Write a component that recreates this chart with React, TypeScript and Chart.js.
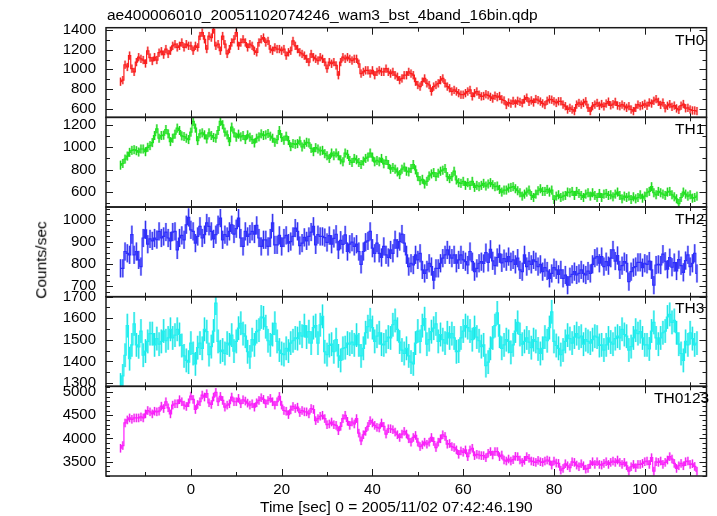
import React, { useEffect, useRef } from "react";
import { Chart, registerables } from "chart.js";

Chart.register(...registerables);

const TITLE = "ae400006010_20051102074246_wam3_bst_4band_16bin.qdp";
const X_TITLE = "Time [sec] 0 = 2005/11/02 07:42:46.190";
const Y_TITLE = "Counts/sec";

const BIN_START = -15.5;
const BIN_WIDTH = 0.5;

const panelNames = ["TH0", "TH1", "TH2", "TH3", "TH0123"];

const th0 = [
  874, 890, 1047, 1024, 1140, 1007, 974, 1074, 1124, 1107,
  1095, 1060, 1190, 1120, 1085, 1125, 1095, 1170, 1185, 1150,
  1207, 1157, 1190, 1240, 1257, 1224, 1240, 1274, 1224, 1257,
  1240, 1240, 1190, 1240, 1224, 1340, 1374, 1307, 1207, 1340,
  1324, 1407, 1240, 1257, 1190, 1340, 1257, 1157, 1207, 1274,
  1307, 1374, 1240, 1274, 1307, 1274, 1224, 1257, 1240, 1190,
  1174, 1274, 1307, 1324, 1274, 1290, 1207, 1190, 1224, 1207,
  1207, 1190, 1207, 1140, 1174, 1190, 1290, 1240, 1207, 1174,
  1157, 1140, 1107, 1074, 1157, 1124, 1107, 1090, 1124, 1107,
  1074, 1007, 1074, 1057, 1074, 1040, 940, 1074, 1124, 1107,
  1124, 1107, 1090, 1107, 1107, 1057, 957, 974, 990, 990,
  957, 990, 940, 974, 990, 974, 974, 1007, 974, 957,
  974, 940, 924, 890, 907, 940, 940, 974, 957, 940,
  874, 840, 824, 874, 907, 857, 840, 774, 824, 840,
  857, 890, 907, 857, 824, 807, 774, 790, 774, 757,
  741, 741, 757, 774, 790, 724, 757, 774, 741, 724,
  728, 746, 735, 719, 702, 731, 716, 728, 694, 682,
  636, 661, 650, 678, 652, 679, 668, 655, 693, 711,
  668, 683, 662, 697, 686, 671, 652, 636, 679, 694,
  690, 674, 657, 674, 674, 640, 624, 590, 607, 590,
  574, 640, 657, 640, 657, 674, 607, 574, 624, 640,
  657, 628, 646, 622, 651, 670, 633, 645, 668, 631,
  624, 640, 624, 607, 624, 590, 574, 607, 640, 624,
  633, 648, 628, 662, 651, 679, 696, 668, 637, 661,
  603, 628, 645, 617, 630, 601, 586, 629, 646, 603,
  607, 590, 580, 580, 574,
];

const th1 = [
  839, 854, 893, 920, 953, 971, 977, 968, 956, 983,
  983, 959, 998, 1013, 1040, 1103, 1163, 1079, 1103, 1106,
  1157, 1118, 1049, 1079, 1115, 1169, 1148, 1100, 1094, 1079,
  1067, 1133, 1229, 1169, 1058, 1118, 1127, 1109, 1073, 1127,
  1103, 1085, 1079, 1148, 1229, 1199, 1133, 1109, 1049, 1178,
  1127, 1088, 1115, 1091, 1103, 1067, 1109, 1088, 1067, 1037,
  1079, 1091, 1118, 1103, 1109, 1121, 1097, 1079, 1043, 1067,
  1148, 1085, 1061, 1097, 1058, 1004, 1031, 1025, 1031, 1055,
  1001, 1025, 1043, 1037, 989, 959, 995, 983, 965, 971,
  941, 923, 899, 947, 923, 947, 923, 887, 869, 947,
  935, 881, 863, 899, 887, 863, 845, 875, 899, 911,
  947, 911, 869, 881, 869, 899, 851, 881, 845, 803,
  818, 803, 779, 755, 803, 821, 785, 779, 809, 845,
  797, 737, 701, 713, 671, 695, 743, 761, 773, 737,
  767, 785, 794, 809, 737, 719, 737, 785, 707, 683,
  677, 695, 659, 683, 659, 695, 641, 659, 647, 659,
  677, 653, 671, 683, 665, 647, 653, 623, 599, 617,
  617, 635, 641, 647, 629, 611, 593, 563, 581, 599,
  617, 569, 551, 581, 611, 629, 605, 605, 623, 599,
  617, 533, 563, 575, 551, 563, 569, 599, 593, 605,
  569, 605, 587, 569, 551, 581, 593, 563, 593, 569,
  551, 587, 551, 581, 587, 569, 575, 557, 581, 599,
  569, 539, 563, 551, 563, 533, 557, 539, 551, 575,
  545, 563, 593, 605, 647, 593, 575, 605, 593, 581,
  569, 599, 605, 575, 557, 539, 497, 551, 599, 581,
  563, 575, 545, 551, 563,
];

const th2 = [
  780, 780, 856, 848, 841, 932, 841, 856, 818, 788,
  917, 954, 889, 913, 904, 917, 910, 947, 917, 924,
  944, 917, 904, 944, 947, 863, 917, 929, 909, 977,
  1010, 954, 947, 894, 924, 970, 917, 932, 985, 970,
  947, 913, 932, 977, 1007, 909, 932, 924, 947, 977,
  935, 959, 1007, 917, 879, 947, 924, 935, 947, 935,
  974, 917, 879, 909, 909, 879, 917, 985, 886, 886,
  929, 879, 917, 929, 894, 901, 924, 962, 947, 883,
  894, 920, 904, 924, 944, 970, 886, 932, 924, 924,
  919, 897, 928, 889, 915, 934, 863, 907, 888, 931,
  856, 889, 898, 879, 889, 856, 798, 856, 898, 904,
  947, 871, 848, 894, 848, 829, 879, 841, 829, 863,
  848, 909, 871, 901, 935, 894, 841, 788, 803, 795,
  841, 818, 848, 773, 757, 773, 803, 788, 727, 780,
  780, 803, 826, 841, 863, 841, 826, 841, 803, 818,
  841, 818, 810, 795, 856, 810, 765, 780, 803, 810,
  802, 851, 807, 866, 814, 792, 829, 846, 805, 824,
  810, 833, 810, 818, 798, 826, 773, 765, 841, 788,
  813, 798, 818, 810, 788, 798, 765, 783, 768, 735,
  757, 783, 773, 753, 773, 735, 750, 704, 742, 753,
  765, 750, 757, 773, 757, 750, 768, 757, 798, 826,
  833, 803, 833, 788, 810, 792, 826, 863, 813, 838,
  773, 792, 810, 803, 720, 765, 783, 788, 807, 807,
  783, 803, 798, 813, 773, 704, 795, 798, 795, 844,
  812, 776, 828, 785, 806, 768, 819, 792, 762, 815,
  841, 788, 803, 848, 757,
];

const th3 = [
  1291, 1333, 1429, 1566, 1413, 1477, 1574, 1477, 1468, 1541,
  1429, 1448, 1493, 1529, 1529, 1477, 1506, 1480, 1493, 1541,
  1496, 1509, 1549, 1509, 1522, 1549, 1525, 1474, 1426, 1405,
  1397, 1485, 1437, 1389, 1464, 1485, 1461, 1549, 1538, 1432,
  1469, 1541, 1670, 1493, 1445, 1453, 1437, 1485, 1477, 1522,
  1448, 1493, 1554, 1577, 1529, 1517, 1445, 1421, 1501, 1477,
  1538, 1545, 1606, 1602, 1561, 1496, 1477, 1525, 1577, 1493,
  1453, 1437, 1432, 1461, 1448, 1485, 1496, 1509, 1506, 1533,
  1517, 1566, 1513, 1538, 1485, 1557, 1566, 1485, 1570, 1609,
  1445, 1432, 1474, 1480, 1445, 1501, 1426, 1405, 1461, 1464,
  1485, 1480, 1490, 1477, 1522, 1477, 1426, 1461, 1533, 1561,
  1593, 1557, 1493, 1517, 1533, 1480, 1477, 1493, 1513, 1509,
  1570, 1590, 1549, 1490, 1453, 1437, 1461, 1426, 1397, 1389,
  1485, 1541, 1493, 1566, 1598, 1480, 1501, 1538, 1554, 1574,
  1493, 1525, 1501, 1485, 1533, 1509, 1529, 1509, 1445, 1448,
  1509, 1541, 1566, 1557, 1541, 1501, 1557, 1513, 1496, 1469,
  1477, 1381, 1397, 1461, 1509, 1566, 1625, 1517, 1461, 1477,
  1501, 1493, 1442, 1477, 1541, 1581, 1525, 1480, 1493, 1509,
  1490, 1464, 1501, 1493, 1458, 1437, 1461, 1513, 1496, 1557,
  1630, 1493, 1474, 1461, 1432, 1453, 1493, 1522, 1506, 1485,
  1513, 1529, 1509, 1517, 1480, 1501, 1493, 1485, 1501, 1517,
  1513, 1474, 1477, 1453, 1477, 1509, 1490, 1480, 1506, 1517,
  1509, 1549, 1525, 1517, 1453, 1469, 1509, 1545, 1529, 1538,
  1509, 1477, 1477, 1458, 1541, 1581, 1509, 1480, 1509, 1533,
  1541, 1606, 1618, 1581, 1590, 1533, 1480, 1437, 1405, 1493,
  1477, 1533, 1506, 1477, 1485,
];

const th0123 = [
  3790, 3848, 4334, 4399, 4442, 4413, 4442, 4442, 4442, 4464,
  4442, 4529, 4602, 4573, 4529, 4587, 4573, 4587, 4696, 4645,
  4790, 4660, 4529, 4718, 4747, 4747, 4834, 4790, 4718, 4689,
  4768, 4913, 4841, 4624, 4732, 4790, 4935, 4892, 4964, 4768,
  4732, 4892, 4993, 4790, 4906, 4819, 4674, 4718, 4747, 4892,
  4790, 4790, 4863, 4747, 4834, 4805, 4761, 4718, 4747, 4674,
  4768, 4819, 4877, 4841, 4747, 4819, 4863, 4790, 4718, 4790,
  4906, 4718, 4602, 4587, 4515, 4616, 4689, 4645, 4674, 4558,
  4602, 4573, 4573, 4529, 4645, 4624, 4384, 4428, 4479, 4500,
  4428, 4297, 4312, 4355, 4297, 4283, 4167, 4261, 4428, 4500,
  4370, 4283, 4355, 4312, 4428, 4116, 3950, 4080, 4153, 4261,
  4384, 4334, 4283, 4239, 4225, 4334, 4261, 4095, 4210, 4210,
  4189, 4138, 4080, 4022, 4095, 4153, 4095, 3993, 3921, 4022,
  4066, 3921, 3826, 3863, 3921, 3877, 3921, 4022, 3935, 3805,
  3921, 3993, 4080, 4044, 3877, 3892, 3826, 3805, 3754, 3660,
  3732, 3703, 3754, 3609, 3754, 3790, 3631, 3660, 3645, 3631,
  3631, 3587, 3682, 3718, 3645, 3718, 3718, 3609, 3645, 3537,
  3515, 3558, 3515, 3544, 3616, 3609, 3537, 3486, 3529, 3609,
  3573, 3515, 3500, 3486, 3529, 3500, 3486, 3515, 3537, 3515,
  3428, 3515, 3471, 3464, 3319, 3356, 3457, 3413, 3370, 3500,
  3486, 3428, 3392, 3457, 3413, 3341, 3356, 3442, 3500, 3442,
  3500, 3442, 3428, 3464, 3500, 3442, 3486, 3515, 3486, 3537,
  3486, 3442, 3486, 3413, 3298, 3392, 3442, 3370, 3442, 3442,
  3464, 3500, 3515, 3442, 3587, 3298, 3500, 3486, 3515, 3442,
  3486, 3537, 3609, 3558, 3464, 3356, 3413, 3464, 3413, 3500,
  3515, 3442, 3457, 3399, 3298,
];

const series = [th0, th1, th2, th3, th0123];

// axis ranges & ticks
const yMin = [510, 466, 652, 1285, 3193];
const yMax = [1425, 1265, 1057, 1700, 5122];
const th0Ticks = [600, 800, 1000, 1200, 1400];
const th1Ticks = [600, 800, 1000, 1200];
const th2Ticks = [700, 800, 900, 1000];
const th3Ticks = [1300, 1400, 1500, 1600, 1700];
const th0123Ticks = [3500, 4000, 4500, 5000];
const majorTicks = [th0Ticks, th1Ticks, th2Ticks, th3Ticks, th0123Ticks];
const minorSteps = [100, 100, 25, 50, 100];
const errHalf = [42, 40, 41, 55, 92];

const xMin = -18.7;
const xMax = 113.6;
const xTicks = [0, 20, 40, 60, 80, 100];
const X_MINOR = 10;
const X_MAJOR = 20;

const lineColors = ["#ff1c1c", "#1fe61f", "#2c2cff", "#1ff2f2", "#ff1cff"];
const errFill = [
  "rgba(255,90,90,0.55)",
  "rgba(70,235,70,0.55)",
  "rgba(80,80,255,0.55)",
  "rgba(70,245,245,0.6)",
  "rgba(255,90,255,0.55)",
];
const errLine = [
  "rgba(230,0,0,0.8)",
  "rgba(0,200,0,0.8)",
  "rgba(20,20,230,0.8)",
  "rgba(0,220,220,0.8)",
  "rgba(230,0,230,0.8)",
];

const panelIds = ["y0", "y1", "y2", "y3", "y4"];
const FONT = "'Liberation Sans', Arial, Helvetica, sans-serif";

const errorBarPlugin = {
  id: "errorBars",
  beforeDatasetsDraw(chart: any) {
    const ctx = chart.ctx;
    const xs = chart.scales.x;
    const ca = chart.chartArea;
    series.forEach((vals, p) => {
      const s = chart.scales[panelIds[p]];
      ctx.save();
      ctx.beginPath();
      ctx.rect(ca.left, s.top, ca.right - ca.left, s.bottom - s.top);
      ctx.clip();
      const e = errHalf[p];
      vals.forEach((v, j) => {
        const t = BIN_START + j * BIN_WIDTH;
        const x0 = xs.getPixelForValue(t - BIN_WIDTH / 2);
        const x1 = xs.getPixelForValue(t + BIN_WIDTH / 2);
        const xc = xs.getPixelForValue(t);
        const yT = s.getPixelForValue(v + e);
        const yB = s.getPixelForValue(v - e);
        ctx.fillStyle = errFill[p];
        ctx.fillRect(x0, yT, x1 - x0, yB - yT);
        ctx.strokeStyle = errLine[p];
        ctx.lineWidth = 1;
        ctx.beginPath();
        ctx.moveTo(xc, yT);
        ctx.lineTo(xc, yB);
        ctx.stroke();
      });
      ctx.restore();
    });
  },
};

const framePlugin = {
  id: "frame",
  afterDatasetsDraw(chart: any) {
    const ctx = chart.ctx;
    const xs = chart.scales.x;
    const ca = chart.chartArea;
    ctx.save();
    ctx.strokeStyle = "#1a1a1a";
    const seg = (a: number, b: number, c: number, d: number) => {
      ctx.beginPath();
      ctx.moveTo(a, b);
      ctx.lineTo(c, d);
      ctx.stroke();
    };
    panelIds.forEach((id, p) => {
      const s = chart.scales[id];
      const top = s.top;
      const bottom = s.bottom;
      ctx.lineWidth = 1;
      const step = minorSteps[p];
      for (let v = Math.ceil(s.min / step) * step; v <= s.max; v += step) {
        const y = Math.round(s.getPixelForValue(v)) + 0.5;
        const len = majorTicks[p].includes(v) ? 7 : 4;
        seg(ca.left, y, ca.left + len, y);
        seg(ca.right, y, ca.right - len, y);
      }
      for (let v = Math.ceil(xs.min / X_MINOR) * X_MINOR; v <= xs.max; v += X_MINOR) {
        const x = Math.round(xs.getPixelForValue(v)) + 0.5;
        const len = v % X_MAJOR === 0 ? 7 : 4;
        seg(x, top, x, top + len);
        seg(x, bottom, x, bottom - len);
      }
      ctx.lineWidth = 1.5;
      ctx.strokeRect(ca.left, top, ca.right - ca.left, bottom - top);
    });
    ctx.restore();
  },
};

const plainLabel = (v: any) => String(v);

export default function App() {
  const canvasRef = useRef<HTMLCanvasElement | null>(null);

  useEffect(() => {
    if (!canvasRef.current) return;
    const datasets = series.map((vals, p) => ({
      label: panelNames[p],
      data: vals.map((v, j) => ({ x: BIN_START + j * BIN_WIDTH, y: v })),
      yAxisID: panelIds[p],
      borderColor: lineColors[p],
      backgroundColor: lineColors[p],
      borderWidth: 1.2,
      pointRadius: 0,
      stepped: "middle" as const,
      fill: false,
    }));

    const scales: any = {
      x: {
        type: "linear",
        position: "bottom",
        min: xMin,
        max: xMax,
        grid: { display: false, drawTicks: false },
        border: { display: false },
        ticks: {
          font: { family: FONT, size: 15 },
          color: "#000",
          padding: 5,
          maxRotation: 0,
          autoSkip: false,
          callback: plainLabel,
        },
        afterBuildTicks: (sc: any) => {
          sc.ticks = xTicks.map((v) => ({ value: v }));
        },
        afterFit: (sc: any) => {
          sc.height = 40;
        },
      },
    };
    // last defined is placed on top of the stack
    for (let p = panelIds.length - 1; p >= 0; p--) {
      const ticks = majorTicks[p];
      scales[panelIds[p]] = {
        type: "linear",
        position: "left",
        stack: "panels",
        stackWeight: 1,
        min: yMin[p],
        max: yMax[p],
        grid: { display: false, drawTicks: false },
        border: { display: false },
        ticks: {
          font: { family: FONT, size: 15 },
          color: "#000",
          padding: 10,
          autoSkip: false,
          callback: plainLabel,
        },
        afterBuildTicks: (sc: any) => {
          sc.ticks = ticks.map((v) => ({ value: v }));
        },
        afterFit: (sc: any) => {
          sc.width = 106;
        },
      };
    }

    const chart = new Chart(canvasRef.current, {
      type: "line",
      data: { datasets },
      options: {
        responsive: false,
        animation: false,
        devicePixelRatio: 1,
        layout: { padding: { left: 0, right: 10.5, top: 27.7, bottom: 0 } },
        plugins: { legend: { display: false }, tooltip: { enabled: false }, title: { display: false } },
        scales,
      },
      plugins: [errorBarPlugin, framePlugin],
    } as any);
    return () => chart.destroy();
  }, []);

  const textBase: React.CSSProperties = {
    position: "absolute",
    fontFamily: FONT,
    fontSize: "15.5px",
    lineHeight: "1",
    color: "#000",
    whiteSpace: "nowrap",
  };
  const labelTops = [31.6, 120.9, 210.6, 299.9, 389.9];
  const labelLefts = [675, 675, 675, 675, 654];

  return (
    <div style={{ position: "absolute", left: 0, top: 0, width: 717, height: 516, background: "#fff" }}>
      <canvas ref={canvasRef} width={717} height={516} style={{ position: "absolute", left: 0, top: 0 }} />
      <div style={{ ...textBase, left: 107, top: 7.4 }}>{TITLE}</div>
      <div style={{ ...textBase, left: 260, top: 498.5 }}>{X_TITLE}</div>
      <div
        style={{
          ...textBase,
          left: 41,
          top: 260,
          transform: "translate(-50%, -50%) rotate(-90deg)",
        }}
      >
        {Y_TITLE}
      </div>
      {panelNames.map((n, i) => (
        <div key={n} style={{ ...textBase, left: labelLefts[i], top: labelTops[i] }}>
          {n}
        </div>
      ))}
    </div>
  );
}
